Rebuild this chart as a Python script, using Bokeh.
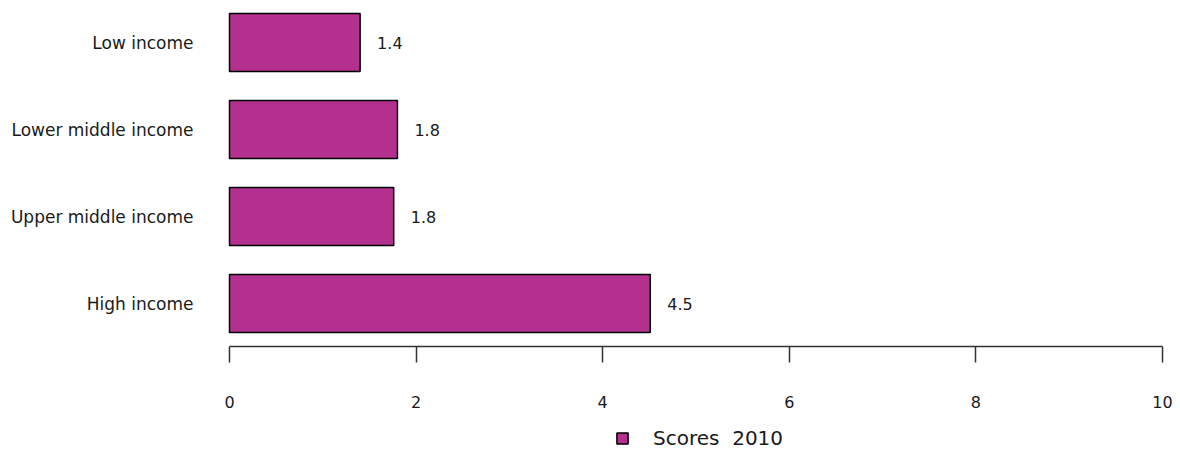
from bokeh.plotting import figure
from bokeh.models import (Range1d, FixedTicker, Legend, LegendItem, ColumnDataSource)
from bokeh.core.properties import value
from bokeh.embed import file_html
from bokeh.resources import INLINE

# ---- data ----
categories = ["Low income", "Lower middle income", "Upper middle income", "High income"]
scores_2010 = [1.40, 1.80, 1.76, 4.51]
x_ticks = [0, 2, 4, 6, 8, 10]
series_name = "Scores  2010"

# positions: first category on top
n = len(categories)
ypos = [n - 1 - i for i in range(n)]
labels = [f"{v:.1f}" for v in scores_2010]

src = ColumnDataSource(dict(cat=categories, y=ypos, v=scores_2010, lab=labels))

FONT = "DejaVu Sans"
TXT = "#1a1a1a"
AXIS_AT = -0.494   # where the value axis sits, below the last bar

p = figure(frame_width=961, frame_height=449, output_backend="svg", toolbar_location=None,
           x_range=Range1d(-0.15, 10.15), y_range=Range1d(-1.770, 3.391),
           min_border_left=215, min_border_right=2, min_border_top=8, min_border_bottom=0)
p.outline_line_color = None
p.xgrid.visible = False
p.ygrid.visible = False
p.background_fill_color = "white"
p.border_fill_color = "white"

r = p.hbar(y="y", right="v", left=0, height=0.667, source=src,
           fill_color="#B4308E", line_color="black", line_width=1.5)

p.text(x="v", y="y", text="lab", source=src, x_offset=17,
       text_align="left", text_baseline="middle",
       text_font=value(FONT), text_font_size="16px", text_color=TXT)

# x axis
xa = p.xaxis[0]
xa.fixed_location = AXIS_AT
xa.bounds = (x_ticks[0], x_ticks[-1])
xa.ticker = FixedTicker(ticks=x_ticks)
xa.axis_line_color = "#333333"
xa.axis_line_width = 1.5
xa.major_tick_line_color = "#333333"
xa.major_tick_line_width = 1.5
xa.major_tick_in = 0
xa.major_tick_out = 16
xa.minor_tick_line_color = None
xa.major_label_standoff = 34
xa.major_label_text_font = FONT
xa.major_label_text_font_size = "16px"
xa.major_label_text_color = TXT

# y axis with category labels
ya = p.yaxis[0]
ya.ticker = FixedTicker(ticks=ypos)
ya.major_label_overrides = {y: c for y, c in zip(ypos, categories)}
ya.axis_line_color = None
ya.major_tick_line_color = None
ya.minor_tick_line_color = None
ya.major_tick_in = 0
ya.major_tick_out = 0
ya.major_label_standoff = 22
ya.major_label_text_font = FONT
ya.major_label_text_font_size = "17px"
ya.major_label_text_color = TXT

legend = Legend(items=[LegendItem(label=series_name, renderers=[r])],
                location=(400, 7), orientation="horizontal",
                border_line_color=None, background_fill_alpha=0,
                margin=0, padding=0, spacing=0,
                glyph_width=14, glyph_height=14, label_standoff=24,
                label_text_font=FONT, label_text_font_size="20px",
                label_text_color=TXT, label_height=14)
p.add_layout(legend, "center")

open("out.html", "w").write(file_html(p, INLINE))
